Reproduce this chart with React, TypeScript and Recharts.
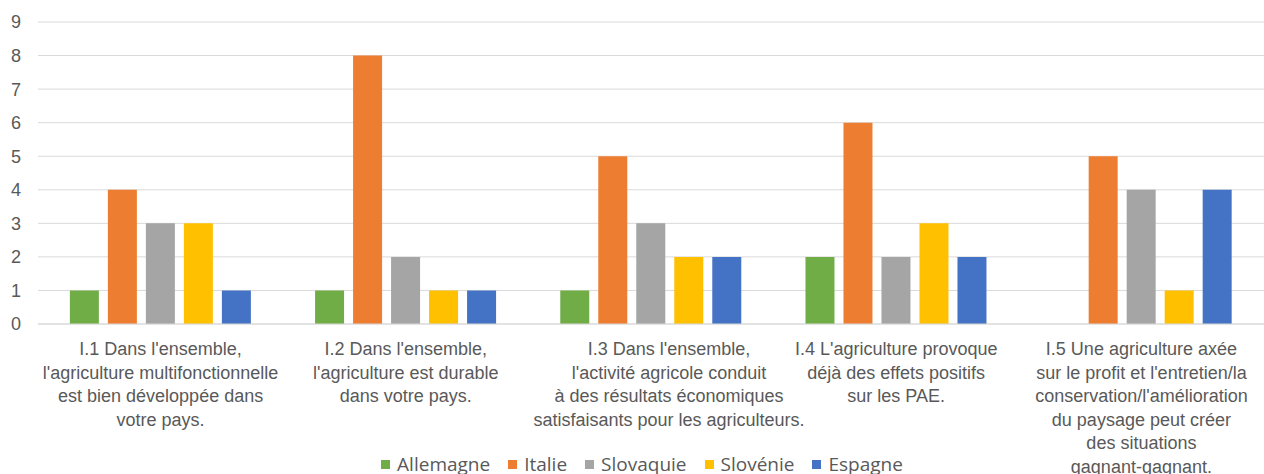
import React from 'react';
import { BarChart, Bar, XAxis, YAxis, CartesianGrid, Legend } from 'recharts';

const CATEGORY_LINES: string[][] = [
  ["I.1 Dans l'ensemble,", "l'agriculture multifonctionnelle", 'est bien développée dans', 'votre pays.'],
  ["I.2 Dans l'ensemble,", "l'agriculture est durable", 'dans votre pays.'],
  ["I.3 Dans l'ensemble,", "l'activité agricole conduit", 'à des résultats économiques', 'satisfaisants pour les agriculteurs.'],
  ["I.4 L'agriculture provoque", 'déjà des effets positifs', 'sur les PAE.'],
  ['I.5 Une agriculture axée', "sur le profit et l'entretien/la", "conservation/l'amélioration", 'du paysage peut créer', 'des situations', 'gagnant-gagnant.'],
];

const CATEGORY_IDS = ['I.1', 'I.2', 'I.3', 'I.4', 'I.5'];

const allemagne = [1, 1, 1, 2, null];
const italie = [4, 8, 5, 6, 5];
const slovaquie = [3, 2, 3, 2, 4];
const slovenie = [3, 1, 2, 3, 1];
const espagne = [1, 1, 2, 2, 4];

const Y_TICKS = [0, 1, 2, 3, 4, 5, 6, 7, 8, 9];

const SERIES = [
  { key: 'Allemagne', color: '#70AD47' },
  { key: 'Italie', color: '#ED7D31' },
  { key: 'Slovaquie', color: '#A5A5A5' },
  { key: 'Slovénie', color: '#FFC000' },
  { key: 'Espagne', color: '#4472C4' },
];

const data = CATEGORY_IDS.map((id, i) => ({
  id,
  Allemagne: allemagne[i],
  Italie: italie[i],
  Slovaquie: slovaquie[i],
  Slovénie: slovenie[i],
  Espagne: espagne[i],
}));

const TEXT = '#595959';
const FONT = '"Liberation Sans", Arial, sans-serif';

const CategoryTick = ({ x, y, payload }: any) => {
  const lines = CATEGORY_LINES[payload.index] || [];
  const shift = payload.index === 2 ? 18 : 0; // Excel puts this one a bit to the right
  return (
    <g transform={`translate(${x + shift},${y})`}>
      <text textAnchor="middle" fill={TEXT} fontSize={18} fontFamily={FONT}>
        {lines.map((l, i) => (
          <tspan key={i} x={0} dy={i === 0 ? 23 : 23.5}>{l}</tspan>
        ))}
      </text>
    </g>
  );
};

const LegendContent = () => (
  <div style={{ display: 'flex', justifyContent: 'center', alignItems: 'center', fontFamily: '"Open Sans", sans-serif', fontSize: 19, color: TEXT, lineHeight: '24px', paddingLeft: 38 }}>
    {SERIES.map(s => (
      <div key={s.key} style={{ display: 'flex', alignItems: 'center', marginRight: 18 }}>
        <span style={{ width: 9, height: 9, background: s.color, marginRight: 7, display: 'inline-block' }} />
        <span>{s.key}</span>
      </div>
    ))}
  </div>
);

export default function App() {
  return (
    <div style={{ width: 1264, height: 474, overflow: 'hidden', background: '#fff' }}>
      <style>{'body{margin:0;overflow:hidden}'}</style>
      <BarChart
        width={1264}
        height={490}
        data={data}
        margin={{ top: 22, right: 0, bottom: 14, left: 0 }}
        barCategoryGap="13%"
        barGap={9}
      >
        <CartesianGrid vertical={false} stroke="#D9D9D9" />
        <XAxis
          dataKey="id"
          height={128}
          interval={0}
          tickLine={false}
          axisLine={{ stroke: '#D9D9D9' }}
          tick={<CategoryTick />}
        />
        <YAxis
          width={38}
          domain={[0, 9]}
          ticks={Y_TICKS}
          axisLine={false}
          tickLine={false}
          tickMargin={11}
          tick={{ fill: TEXT, fontSize: 18, fontFamily: FONT }}
        />
        <Legend verticalAlign="bottom" height={24} content={<LegendContent />} />
        {SERIES.map(s => (
          <Bar key={s.key} dataKey={s.key} fill={s.color} isAnimationActive={false} />
        ))}
      </BarChart>
    </div>
  );
}
